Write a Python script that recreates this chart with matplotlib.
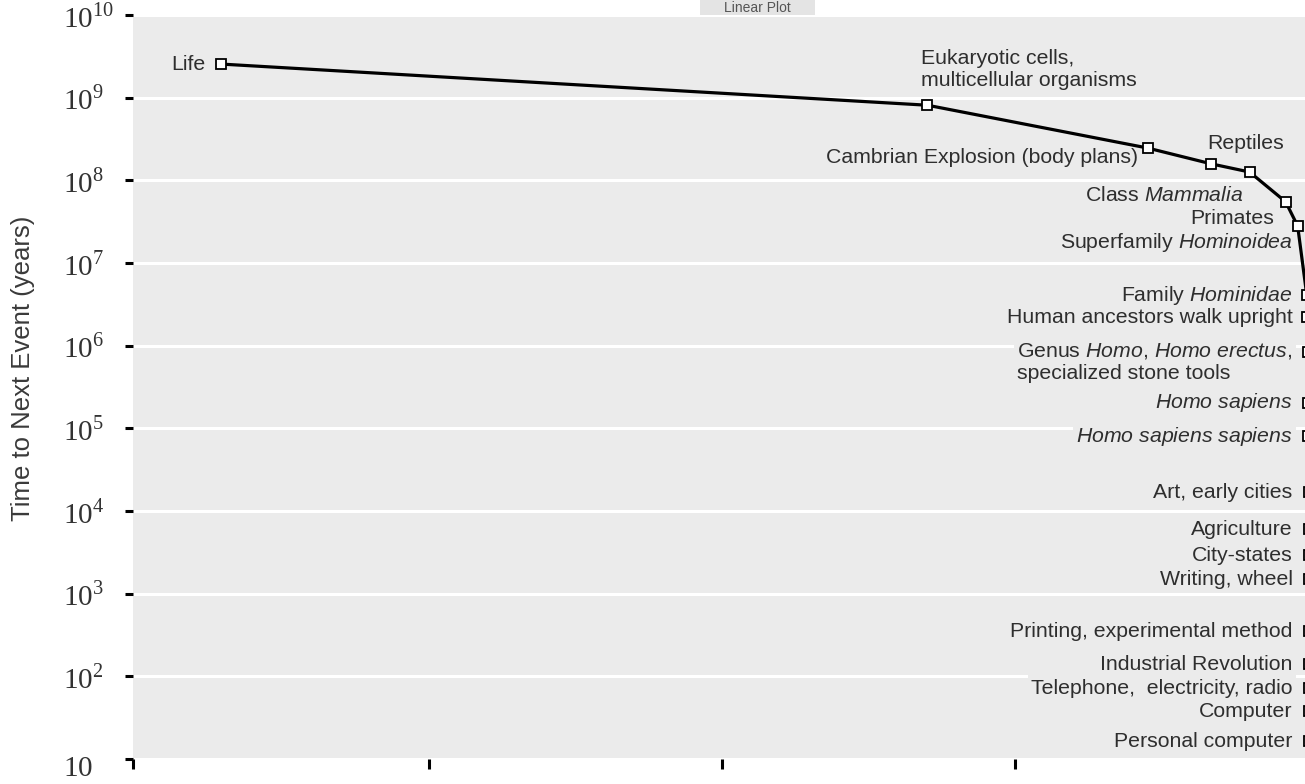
import matplotlib
matplotlib.use("Agg")
import matplotlib.pyplot as plt
from matplotlib.patches import Rectangle

plt.rcParams['font.family'] = ['Liberation Sans', 'DejaVu Sans']
plt.rcParams['mathtext.fontset'] = 'custom'
plt.rcParams['mathtext.rm'] = 'Liberation Serif'
plt.rcParams['mathtext.it'] = 'Liberation Sans:italic'

BG = '#ebebeb'
TXT = '#2e2e2e'

# events: years before present, time to next event (years)
events = [
    "Life",
    "Eukaryotic cells,\nmulticellular organisms",
    "Cambrian Explosion (body plans)",
    "Reptiles",
    "Class $\\mathit{Mammalia}$",
    "Primates",
    "Superfamily $\\mathit{Hominoidea}$",
    "Family $\\mathit{Hominidae}$",
    "Human ancestors walk upright",
    "Genus $\\mathit{Homo}$, $\\mathit{Homo\\ erectus}$,\nspecialized stone tools",
    "$\\mathit{Homo\\ sapiens}$",
    "$\\mathit{Homo\\ sapiens\\ sapiens}$",
    "Art, early cities",
    "Agriculture",
    "City-states",
    "Writing, wheel",
    "Printing, experimental method",
    "Industrial Revolution",
    "Telephone,  electricity, radio",
    "Computer",
    "Personal computer",
]
years_ago = [3.71e9, 1.30e9, 5.49e8, 3.31e8, 2.01e8, 7.8e7, 3.7e7,
             6.0e6, 4.0e6, 2.0e6, 3.0e5, 1.0e5, 3.0e4, 1.2e4, 6.0e3,
             5.0e3, 5.5e2, 2.2e2, 1.2e2, 6.5e1, 3.0e1]
time_to_next = [2.55e9, 8.1e8, 2.46e8, 1.58e8, 1.26e8, 5.5e7, 2.8e7,
                4.1e6, 2.2e6, 8.5e5, 2.05e5, 8.0e4, 1.68e4, 6.0e3, 2.9e3,
                1.5e3, 3.5e2, 1.4e2, 7.2e1, 3.8e1, 1.65e1]

y_ticks = [10 ** k for k in range(1, 11)]
y_tick_labels = ['$10$'] + ['$10^{%d}$' % k for k in range(2, 11)]
x_ticks = [4.0106e9, 3e9, 2e9, 1e9, 0]

# label placement: (dx, dy) offsets in points from the point, ha
upper_layout = [
    (-11.5, 0, 'right'),
    (-5, 26, 'left'),
    (-6.5, -7, 'right'),
    (-3, 15, 'left'),
    (-4.5, -17, 'right'),
    (-8.5, -12, 'right'),
    (-3.5, -12, 'right'),
]

fig = plt.figure(figsize=(13.05, 7.84), dpi=100)
ax = fig.add_axes([133 / 1305, 25 / 784, 1179 / 1305, 744 / 784])
ax.set_facecolor(BG)
for s in ax.spines.values():
    s.set_visible(False)

ax.set_yscale('log')
ax.set_ylim(10, 1e10)
ax.set_xlim(4.0106e9, -0.0119e9)

ax.plot(years_ago, time_to_next, color='black', lw=2.3, zorder=3,
        marker='s', markersize=6.8, markerfacecolor='white',
        markeredgecolor='black', markeredgewidth=1.3, clip_on=False)

ax.set_yticks(y_ticks)
ax.set_yticklabels([''] + y_tick_labels[1:])
ax.minorticks_off()
ax.set_xticks(x_ticks)
ax.set_xticklabels([])
ax.tick_params(axis='y', direction='out', length=5.8, width=2.2, color='black',
               labelsize=21, labelcolor='#333333', pad=44.6)
ax.tick_params(axis='x', direction='out', length=7.5, width=2.2, color='black')
for lbl in ax.get_yticklabels():
    lbl.set_ha('left')
# the lowest label sits a little below its tick, at the cropped bottom edge
fig.text(63 / 1305, 1.5 / 784, y_tick_labels[0], fontsize=21, color='#333333',
         ha='left', va='bottom')

ax.yaxis.grid(True, color='white', lw=2.2)
ax.xaxis.grid(False)
ax.set_axisbelow(True)

ax.set_ylabel('Time to Next Event (years)', fontsize=18.5, color='#3a3a3a',
              labelpad=0)
ax.yaxis.set_label_coords(-98 / 1179, 0.525)

box = dict(boxstyle='square,pad=0.15', facecolor=BG, edgecolor='none')
for i, name in enumerate(events):
    if i < len(upper_layout):
        dx, dy, ha = upper_layout[i]
        ax.annotate(name, xy=(years_ago[i], time_to_next[i]), xytext=(dx, dy),
                    textcoords='offset points', ha=ha, va='center',
                    fontsize=15.3, color=TXT, bbox=box, zorder=2,
                    multialignment='left')
    else:
        dy = 7.5 if '\n' in name else 0
        ax.annotate(name, xy=(0.9835, time_to_next[i]),
                    xycoords=('axes fraction', 'data'), xytext=(0, dy),
                    textcoords='offset points', ha='right',
                    va='top' if dy else 'center', fontsize=15.3, color=TXT,
                    bbox=box, zorder=2, multialignment='left')

# cropped title tab at the top
fig.patches.append(Rectangle((700 / 1305, 1 - 15 / 784), 115 / 1305, 15 / 784,
                             transform=fig.transFigure, facecolor='#e4e4e4',
                             edgecolor='none'))
fig.text(757 / 1305, 1 - 1 / 784, 'Linear Plot', fontsize=10, color='#555555',
         ha='center', va='top')

fig.savefig('out.png', dpi=100)
